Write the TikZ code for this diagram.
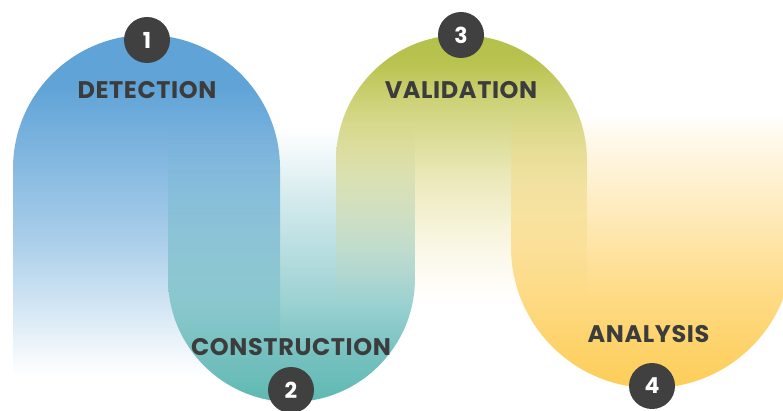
\documentclass[tikz,border=0pt]{standalone}
\usepackage{fontspec}
\setmainfont{Poppins}
\usetikzlibrary{fadings}
\definecolor{blueA}{HTML}{5FA3D7}
\definecolor{tealTop}{HTML}{66B4C2}
\definecolor{tealBot}{HTML}{5EB8B2}
\definecolor{greenTop}{HTML}{B3C14B}
\definecolor{greenMid}{HTML}{BAC552}
\definecolor{greenBot}{HTML}{EAD470}
\definecolor{yellowA}{HTML}{FDCD58}
\definecolor{darkgray}{HTML}{404040}
\definecolor{labelgray}{HTML}{3C3C3C}

% fading shadings (white = opaque, black = transparent); 25bp = bottom, 75bp = top
\pgfdeclareverticalshading{sfBlue}{100bp}{color(0bp)=(black); color(25bp)=(black);
  color(30bp)=(white!13!black); color(36bp)=(white!30!black); color(43.5bp)=(white!50!black);
  color(50.5bp)=(white!65!black); color(58bp)=(white!80!black); color(67.5bp)=(white); color(100bp)=(white)}
\pgfdeclareverticalshading{sfTeal}{100bp}{color(0bp)=(white); color(25bp)=(white);
  color(34.5bp)=(white!84!black); color(43.5bp)=(white!62!black); color(52.5bp)=(white!45!black);
  color(61.5bp)=(white!28!black); color(70.5bp)=(white!8!black); color(75bp)=(black); color(100bp)=(black)}
\pgfdeclareverticalshading{sfGreen}{100bp}{color(0bp)=(black); color(25bp)=(black);
  color(35bp)=(white!15!black); color(48bp)=(white!42!black); color(61bp)=(white!75!black);
  color(70bp)=(white); color(100bp)=(white)}
\pgfdeclareverticalshading{sfYellow}{100bp}{color(0bp)=(white); color(25bp)=(white);
  color(35.5bp)=(white!85!black); color(44.5bp)=(white!68!black); color(54bp)=(white!48!black);
  color(63bp)=(white!28!black); color(72.5bp)=(white!8!black); color(75bp)=(black); color(100bp)=(black)}

\begin{tikzfadingfrompicture}[name=fBlue]
\shade[shading=sfBlue] (-25bp,-25bp) rectangle (25bp,25bp);
\end{tikzfadingfrompicture}
\begin{tikzfadingfrompicture}[name=fTeal]
\shade[shading=sfTeal] (-25bp,-25bp) rectangle (25bp,25bp);
\end{tikzfadingfrompicture}
\begin{tikzfadingfrompicture}[name=fGreen]
\shade[shading=sfGreen] (-25bp,-25bp) rectangle (25bp,25bp);
\end{tikzfadingfrompicture}
\begin{tikzfadingfrompicture}[name=fYellow]
\shade[shading=sfYellow] (-25bp,-25bp) rectangle (25bp,25bp);
\end{tikzfadingfrompicture}

\tikzset{
  numdot/.style={circle, fill=darkgray, minimum size=46pt, inner sep=0pt, text=white,
    font=\fontsize{22}{22}\selectfont\bfseries},
  steplabel/.style={anchor=base, inner sep=0pt, text=labelgray,
    font=\fontsize{24}{24}\selectfont\bfseries\addfontfeatures{LetterSpace=2.5}}
}

\begin{document}
\begin{tikzpicture}[x=1pt,y=1pt]
\useasboundingbox (0,0) rectangle (783,410);
% 1 blue arch
\fill[blueA, path fading=fBlue]
  (13,35) -- (13,241.5) arc[start angle=180, end angle=0, radius=133.5] -- (280,35) -- cycle;
% 2 teal U
\shade[top color=tealTop, bottom color=tealBot, path fading=fTeal]
  (168,285) -- (168,131.5) arc[start angle=180, end angle=360, radius=123.5] -- (415,285) -- cycle;
% 3 green arch
\shade[top color=greenTop, middle color=greenMid, bottom color=greenBot, path fading=fGreen]
  (336,105) -- (336,249.5) arc[start angle=180, end angle=0, radius=125.5] -- (587,105) -- cycle;
% 4 yellow U
\fill[yellowA, path fading=fYellow]
  (511,295) -- (511,163) arc[start angle=180, end angle=360, radius=141] -- (793,295) -- cycle;

% labels
\node[steplabel] (l1) at (147,311) {DETECTION};
\node[steplabel] (l2) at (291,55) {CONSTRUCTION};
\node[steplabel] (l3) at (461,311) {VALIDATION};
\node[steplabel] (l4) at (648.5,68) {ANALYSIS};

% number badges
\node[numdot] (n1) at (147,370) {1};
\node[numdot] (n2) at (291,20) {2};
\node[numdot] (n3) at (461,375) {3};
\node[numdot] (n4) at (652,24) {4};
\end{tikzpicture}
\end{document}
